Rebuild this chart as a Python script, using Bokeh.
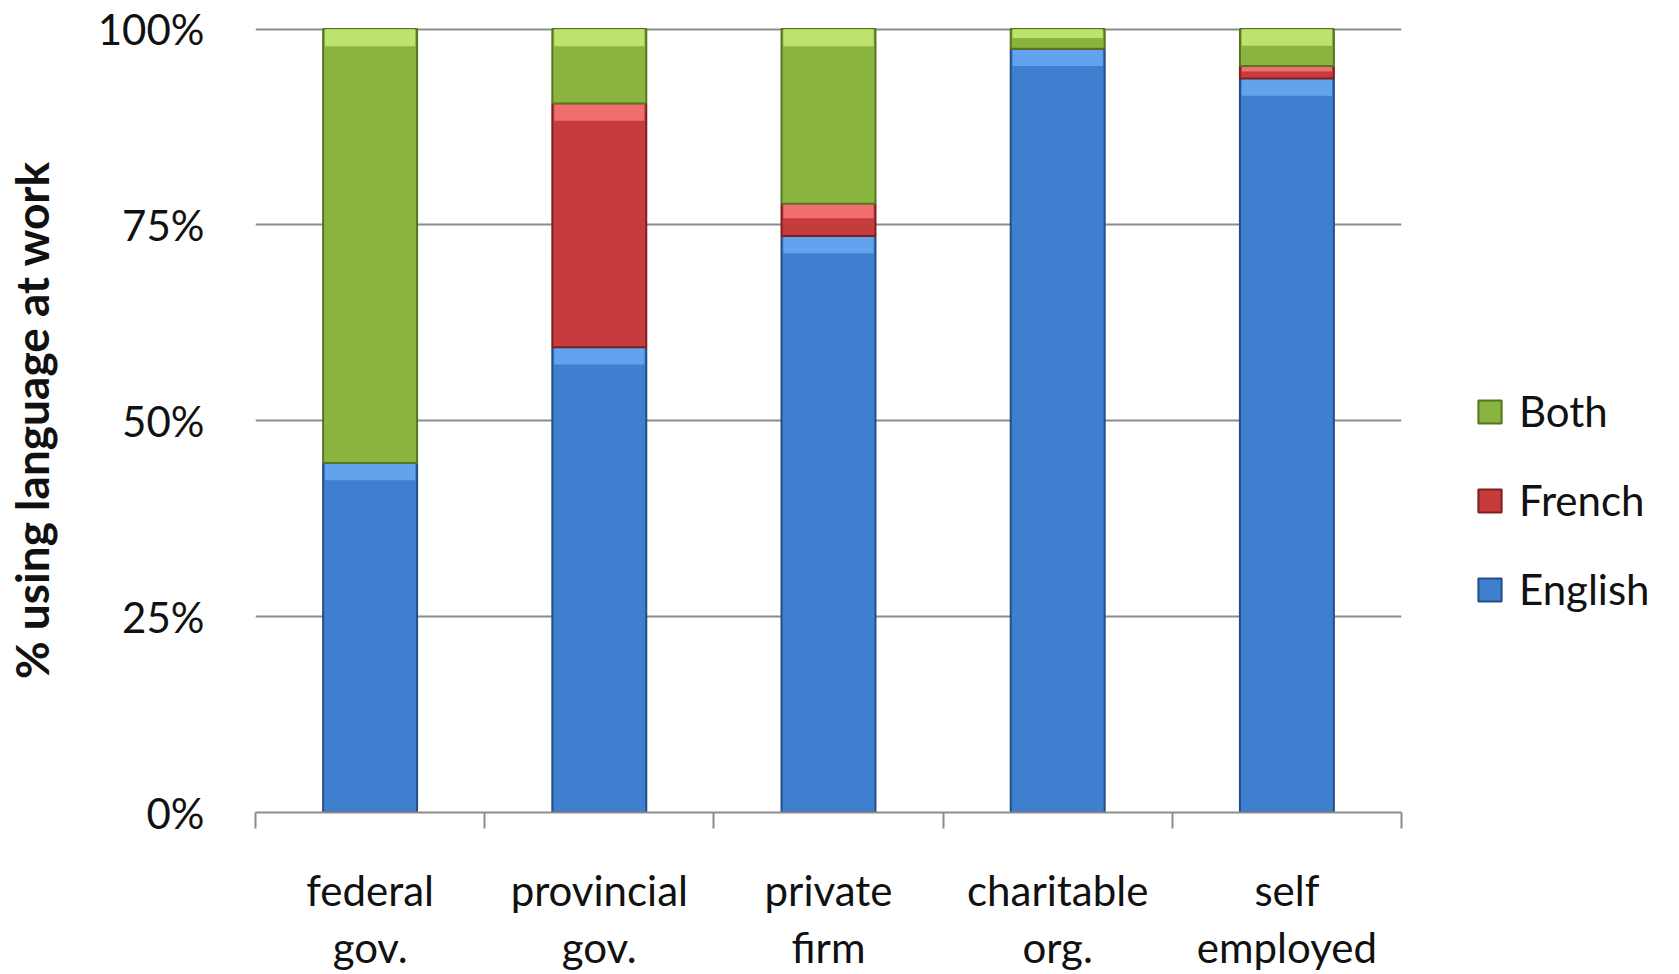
from bokeh.plotting import figure
from bokeh.models import Range1d, FixedTicker, NumeralTickFormatter, Legend, LegendItem, ColumnDataSource
from bokeh.embed import file_html
from bokeh.resources import INLINE

categories = ["federal\ngov.", "provincial\ngov.", "private\nfirm", "charitable\norg.", "self\nemployed"]
english = [0.446, 0.594, 0.736, 0.975, 0.937]
french = [0.0, 0.311, 0.041, 0.0, 0.016]
both = [0.554, 0.095, 0.223, 0.025, 0.047]

series = [
    ("English", english, "#3e7fd0", "#6db0f7", "#244f86"),
    ("French", french, "#c63b3b", "#ff8080", "#7c2020"),
    ("Both", both, "#8ab440", "#cdf27e", "#56751f"),
]

FONT = "Lato"
p = figure(frame_width=1146, frame_height=785, output_backend="svg", toolbar_location=None,
           x_range=Range1d(0, 5), y_range=Range1d(0, 1.002),
           min_border_left=247, min_border_right=0, min_border_top=27, min_border_bottom=140)
p.outline_line_color = None
p.background_fill_color = "white"

xs = [i + 0.5 for i in range(len(categories))]
bw = 0.41
bottoms = [0.0] * len(categories)
renderers = {}
for name, vals, fill, hi, dark in series:
    tops = [b + v for b, v in zip(bottoms, vals)]
    src = ColumnDataSource(dict(x=xs, bottom=bottoms, top=tops))
    r = p.vbar(x="x", width=bw, bottom="bottom", top="top", source=src,
               fill_color=fill, line_color=dark, line_width=2)
    renderers[name] = r
    hb = [max(t - min(0.022, v * 0.45), b) for t, v, b in zip(tops, vals, bottoms)]
    hsrc = ColumnDataSource(dict(x=[x for x, v in zip(xs, vals) if v > 0],
                                 bottom=[h for h, v in zip(hb, vals) if v > 0],
                                 top=[t for t, v in zip(tops, vals) if v > 0]))
    p.vbar(x="x", width=bw * 0.96, bottom="bottom", top="top", source=hsrc,
           fill_color=hi, fill_alpha=0.75, line_color=None)
    bottoms = tops

# y axis
p.yaxis.ticker = FixedTicker(ticks=[0, 0.25, 0.5, 0.75, 1.0])
p.yaxis.formatter = NumeralTickFormatter(format="0%")
p.yaxis.axis_line_color = None
p.yaxis.major_tick_line_color = None
p.yaxis.minor_tick_line_color = None
p.yaxis.major_label_text_font = FONT
p.yaxis.major_label_text_font_size = "42px"
p.yaxis.major_label_text_color = "#111111"
p.yaxis.major_label_standoff = 45
p.yaxis.axis_label = "% using language at work"
p.yaxis.axis_label_text_font = FONT
p.yaxis.axis_label_text_font_size = "46px"
p.yaxis.axis_label_text_font_style = "bold"
p.yaxis.axis_label_text_color = "#111111"
p.yaxis.axis_label_standoff = 36

# x axis
p.xaxis.ticker = FixedTicker(ticks=xs, minor_ticks=[0, 1, 2, 3, 4, 5])
p.xaxis.major_label_overrides = {x: c for x, c in zip(xs, categories)}
p.xaxis.major_tick_line_color = None
p.xaxis.minor_tick_line_color = "#8c8c8c"
p.xaxis.minor_tick_line_width = 2
p.xaxis.minor_tick_out = 16
p.xaxis.minor_tick_in = 0
p.xaxis.axis_line_color = "#8c8c8c"
p.xaxis.axis_line_width = 2
p.xaxis.major_label_text_font = FONT
p.xaxis.major_label_text_font_size = "42px"
p.xaxis.major_label_text_color = "#111111"
p.xaxis.major_label_text_line_height = 1.15
p.xaxis.major_label_standoff = 36

p.xgrid.grid_line_color = None
p.ygrid.ticker = FixedTicker(ticks=[0.25, 0.5, 0.75, 1.0])
p.ygrid.grid_line_color = "#8c8c8c"
p.ygrid.grid_line_width = 2
p.ygrid.level = "underlay"

legend = Legend(items=[LegendItem(label=n, renderers=[renderers[n]]) for n in ["Both", "French", "English"]],
                location=(74, 198), orientation="vertical")
legend.label_text_font = FONT
legend.label_text_font_size = "42px"
legend.label_text_color = "#111111"
legend.glyph_width = 29
legend.glyph_height = 29
legend.label_standoff = 15
legend.spacing = 39
legend.padding = 0
legend.margin = 0
legend.border_line_color = None
legend.background_fill_alpha = 0
p.add_layout(legend, "right")

open("out.html", "w").write(file_html(p, INLINE))
